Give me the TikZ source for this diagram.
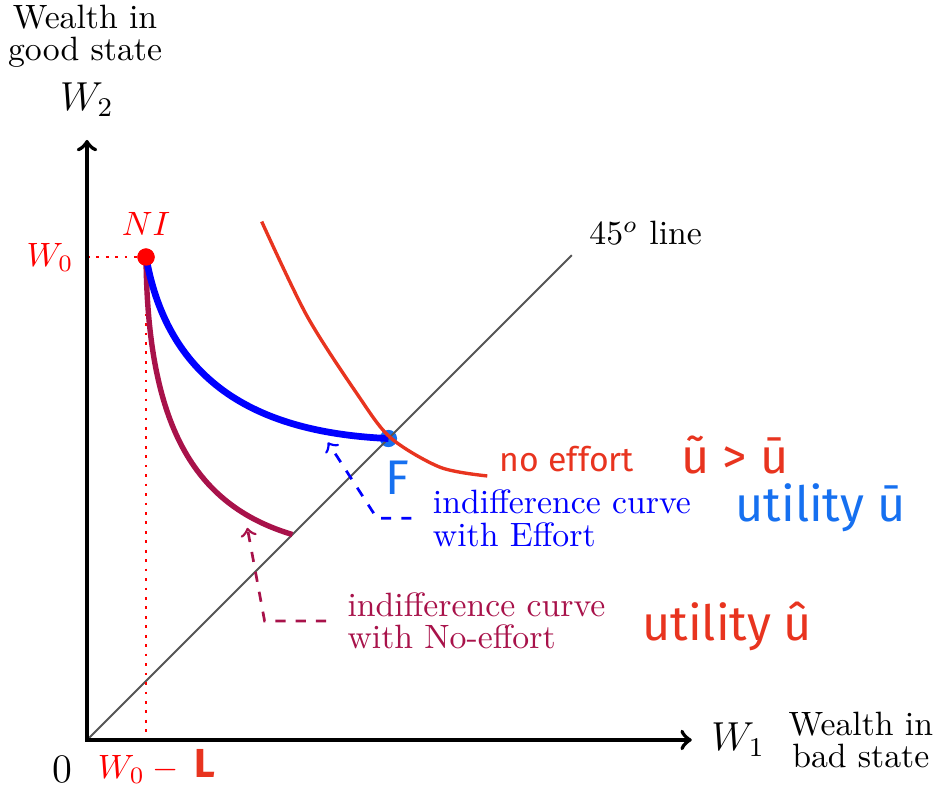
\documentclass[tikz,border=0pt]{standalone}
\usepackage{fontspec}
\newfontfamily\handfont{Fira Sans}
\usetikzlibrary{positioning}
\definecolor{noeff}{HTML}{A8124A}
\definecolor{handred}{HTML}{E8341F}
\definecolor{handblue}{HTML}{1670F0}
\definecolor{diaggray}{HTML}{555555}
\tikzset{
  axis/.style={very thick, <->},
  guide/.style={red, dotted, thick},
  diag/.style={diaggray, semithick},
  effcurve/.style={blue, line width=2pt},
  noeffcurve/.style={noeff, line width=1.6pt},
  pointer/.style={dashed, thick, ->, shorten <=1mm},
  lbl/.style={align=left, font=\linespread{0.8}\selectfont},
  hand/.style={font=\handfont\Large, inner sep=1pt},
  dot/.style={circle, inner sep=0pt, minimum size=0.18cm}
}
\begin{document}
\begin{tikzpicture}
  \useasboundingbox (-0.906,-0.479) rectangle (8.865,7.708);
  \coordinate (orig) at (0,0);
  \coordinate (xtip) at (6.30,0);
  \coordinate (ytip) at (0,6.25);
  \coordinate (diagend) at (5.05,5.05);
  \coordinate (wzaxis) at (0,5.03);
  \coordinate (lfoot) at (0.615,0);
  \coordinate (noeffend) at (2.14,2.14);
  \node (ni) [dot, fill=red] at (0.615,5.03) {};
  \node (fpt) [dot, fill=handblue] at (3.14,3.14) {};

  \draw [diag] (orig) -- (diagend);
  \draw [guide] (wzaxis) -- (ni);
  \draw [guide] (ni) -- (lfoot);
  \draw [axis] (ytip) |- (xtip);

  \draw [noeffcurve] (ni.center) .. controls (0.63,3.3) and (1.1,2.45) .. (noeffend);
  \draw [effcurve] (ni.center) .. controls (0.85,3.7) and (1.8,3.2) .. (fpt.center);
  \node [dot, fill=red] at (ni) {};

  \node (wtwo) [above=0.12cm of ytip, font=\large] {$W_2$};
  \node (goodlbl) [lbl, align=center] at (-0.02,7.33) {Wealth in\\good state};
  \node (wone) [right=0.08cm of xtip, font=\large] {$W_1$};
  \node (badlbl) [lbl, align=center, right=0pt of wone] {Wealth in\\bad state};
  \node (zero) [font=\large] at (-0.26,-0.31) {$0$};
  \node (wzlbl) [red] at (-0.385,5.03) {$W_0$};
  \node (nilbl) [red, above=0pt of ni] {$NI$};
  \node (wzl) [red, anchor=west] at (-0.01,-0.31) {$W_0-{}$};
  \node (diaglbl) [anchor=west] at (5.11,5.28) {$45^o$ line};

  \node (efflbl) [lbl, blue, anchor=west] at (3.48,2.31) {indifference curve\\with Effort};
  \node (nefflbl) [lbl, noeff, anchor=west] at (2.59,1.24) {indifference curve\\with No-effort};
  \coordinate (effbend) at (3.02,2.31);
  \coordinate (efftip) at (2.51,3.10);
  \coordinate (neffbend) at (1.85,1.24);
  \coordinate (nefftip) at (1.67,2.21);
  \draw [pointer, blue] (efflbl.west) -- (effbend) -- (efftip);
  \draw [pointer, noeff] (nefflbl.west) -- (neffbend) -- (nefftip);

  \draw [handred, line width=1pt] plot[smooth] coordinates {(1.82,5.40) (2.29,4.42) (2.81,3.61) (3.16,3.15) (3.68,2.84) (4.17,2.75)};
  \node (flbl) [hand, handblue] at (3.23,2.73) {F};
  \node (lhand) [hand, handred, font=\handfont\bfseries\large] at (1.23,-0.25) {L};
  \node (noefflbl) [hand, handred, font=\handfont\normalsize] at (5.0,2.93) {no effort};
  \node (ineq) [hand, handred] at (6.75,2.97) {ũ > ū};
  \node (ubarlbl) [hand, handblue] at (7.64,2.42) {utility ū};
  \node (uhatlbl) [hand, handred] at (6.67,1.18) {utility û};
\end{tikzpicture}
\end{document}
